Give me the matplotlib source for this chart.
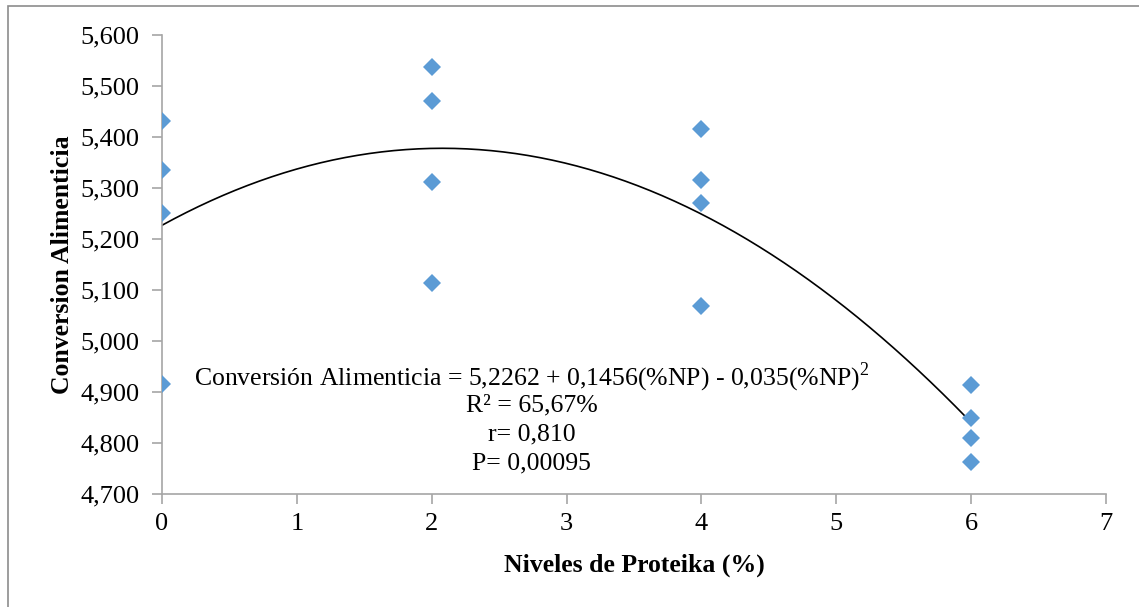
import numpy as np
import matplotlib.pyplot as plt
from matplotlib.patches import Rectangle

plt.rcParams['font.family'] = ['Liberation Serif', 'DejaVu Serif']
plt.rcParams['mathtext.fontset'] = 'custom'
plt.rcParams['mathtext.rm'] = 'Liberation Serif'

# niveles de proteika (%) and observed feed conversion
niveles = [0, 0, 0, 0, 2, 2, 2, 2, 4, 4, 4, 4, 6, 6, 6, 6]
conversion = [5.431, 5.335, 5.251, 4.916,
              5.537, 5.471, 5.312, 5.114,
              5.416, 5.316, 5.271, 5.069,
              4.914, 4.849, 4.810, 4.763]

x_ticks = [0, 1, 2, 3, 4, 5, 6, 7]
y_ticks = [4.7, 4.8, 4.9, 5.0, 5.1, 5.2, 5.3, 5.4, 5.5, 5.6]

eq_lines = [
    r"Conversión Alimenticia = 5,2262 + 0,1456(%NP) - 0,035(%NP)$^{\mathrm{2}}$",
    "R² = 65,67%",
    "r= 0,810",
    "P= 0,00095",
]

fig = plt.figure(figsize=(11.39, 6.07), dpi=100)
ax = fig.add_axes([0.1422, 0.1862, 0.8288, 0.7561])

# chart area border (left/top visible)
fig.patches.append(Rectangle((8 / 1139, -0.01), 1.1, 1 - 6 / 607 + 0.01,
                             transform=fig.transFigure, fill=False,
                             edgecolor='#8c8c8c', linewidth=1.2))

ax.plot(niveles, conversion, linestyle='none', marker='D', markersize=9.5,
        color='#5b9bd5', markeredgewidth=0, zorder=3)

# polynomial trend line (2nd order) fitted from the points
coef = np.polyfit(niveles, conversion, 2)
xs = np.linspace(0, 6, 200)
ax.plot(xs, np.polyval(coef, xs), color='black', linewidth=1.2, zorder=2)

ax.set_xlim(0, 7)
ax.set_ylim(4.7, 5.6)
ax.set_xticks(x_ticks)
ax.set_yticks(y_ticks)
ax.set_xticklabels([str(v) for v in x_ticks])
ax.set_yticklabels([f"{v:.3f}".replace('.', ',') for v in y_ticks])

for s in ['top', 'right']:
    ax.spines[s].set_visible(False)
for s in ['left', 'bottom']:
    ax.spines[s].set_color('#a6a6a6')
    ax.spines[s].set_linewidth(1.2)
ax.tick_params(direction='out', length=7, width=1.2, color='#a6a6a6',
               labelsize=19)
ax.tick_params(axis='y', pad=9)
ax.tick_params(axis='x', pad=7)

ax.set_xlabel("Niveles de Proteika (%)", fontsize=18.5, fontweight='bold', labelpad=13)
ax.set_ylabel("Conversion Alimenticia", fontsize=18.5, fontweight='bold', labelpad=5)

y0 = 4.929
for k, line in enumerate(eq_lines):
    ax.text(2.74, y0 - k * 0.0563, line, fontsize=18.5, ha='center', va='center')

fig.savefig("out.png", dpi=100)
